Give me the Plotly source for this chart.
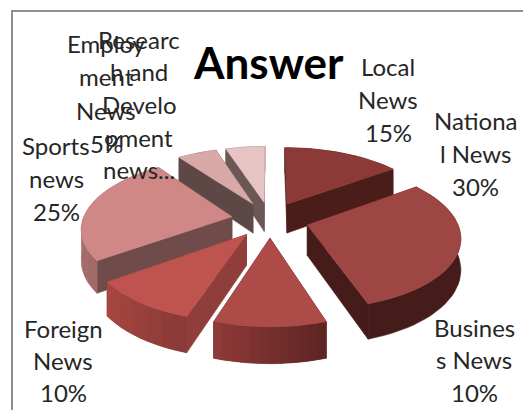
import math
import plotly.graph_objects as go

title = "Answer"
categories = ["Local News", "National News", "Business News", "Foreign News",
              "Sports news", "Employment News", "Research and Development news"]
values = [15, 30, 10, 10, 25, 5, 5]
label_lines = [
    ["Local", "News", "15%"],
    ["Nationa", "l News", "30%"],
    ["Busines", "s News", "10%"],
    ["Foreign", "News", "10%"],
    ["Sports", "news", "25%"],
    ["Employ", "ment", "News", "5%"],
    ["Researc", "h and", "Develo", "pment", "news..."],
]

# styling per slice: top face, radial wall, outer wall (start -> end of the sweep)
top_colors = ["#8B3A38", "#9E4643", "#AC4B48", "#BF534F", "#CF8886", "#D9A9A7", "#E6C4C3"]
wall_colors = ["#4A1C1A", "#451C1A", "#5A2422", "#8F3E3B", "#6F4B49", "#5E4846", "#6A5756"]
arc_colors = [("#4A1C1A", "#4A1C1A"), ("#451C1A", "#451C1A"), ("#5E2523", "#8E3A38"),
              ("#8A3A38", "#A8473F"), ("#A06A68", "#BC807E"), ("#5E4846", "#5E4846"), ("#6A5756", "#6A5756")]
label_x = [388, 475, 474, 63, 56, 106, 139]
label_y = [66, 120, 327, 328, 145, 43, 39]
line_steps = [33, 33, 32.5, 32, 33, 33.5, 32.7]

# projection of the tilted pie onto the page
CX, CY, RX, RY, PERSP, EXPLODE, DEPTH = 270, 219.5, 149, 69, 0.15, 0.26, 30


def project(u, v, down=False):
    d = 1 + PERSP * v
    y = CY - RY * v / d
    if down:
        y += DEPTH / d
    return CX + RX * u / d, y


def hex_mix(a, b, t):
    ca = [int(a[i:i + 2], 16) for i in (1, 3, 5)]
    cb = [int(b[i:i + 2], 16) for i in (1, 3, 5)]
    return "#" + "".join(f"{round(x + (y - x) * t):02x}" for x, y in zip(ca, cb))


def poly(points, color, width=0.6):
    xs = [p[0] for p in points] + [points[0][0]]
    ys = [p[1] for p in points] + [points[0][1]]
    return go.Scatter(x=xs, y=ys, mode="lines", fill="toself", fillcolor=color,
                      line=dict(color=color, width=width), hoverinfo="skip", showlegend=False)


total = sum(values)
slices = []
start = 0.0
for i, val in enumerate(values):
    sweep = 360.0 * val / total
    a0, a1 = start, start + sweep
    start = a1
    mid = math.radians((a0 + a1) / 2)
    ou, ov = EXPLODE * math.sin(mid), EXPLODE * math.cos(mid)
    n = max(4, int(sweep / 3))
    arc = []
    for k in range(n + 1):
        a = math.radians(a0 + (a1 - a0) * k / n)
        arc.append((ou + math.sin(a), ov + math.cos(a)))
    slices.append((ov + 0.6 * math.cos(mid), i, (ou, ov), arc))

traces = []
for _, i, apex, arc in sorted(slices, key=lambda s: -s[0]):
    for edge in sorted((arc[0], arc[-1]), key=lambda e: -e[1]):
        pts = [project(*apex), project(*edge), project(*edge, True), project(*apex, True)]
        traces.append(poly(pts, wall_colors[i]))
    # one continuous wall first, then the shading bands on top of it
    base = [project(*p) for p in arc] + [project(*p, True) for p in reversed(arc)]
    c0, c1 = arc_colors[i]
    traces.append(poly(base, hex_mix(c0, c1, 0.5)))
    if c0 != c1:
        bands = 8
        step = max(1, (len(arc) - 1) // bands)
        for k in range(0, len(arc) - 1, step):
            seg = arc[k:k + step + 1]
            pts = [project(*p) for p in seg] + [project(*p, True) for p in reversed(seg)]
            col = hex_mix(c0, c1, k / max(1, len(arc) - 2))
            traces.append(poly(pts, col, width=0))
    traces.append(poly([project(*apex)] + [project(*p) for p in arc], top_colors[i]))

fig = go.Figure(traces)

annotations = [dict(x=268, y=62, text=f"<b>{title}</b>", showarrow=False, xref="x", yref="y",
                    font=dict(family="Lato", size=44, color="#000000"))]
for i, lines in enumerate(label_lines):
    for j, line in enumerate(lines):
        annotations.append(dict(x=label_x[i], y=label_y[i] + j * line_steps[i], text=line,
                                showarrow=False, xref="x", yref="y",
                                font=dict(family="Lato", size=24, color="#262626")))

fig.update_layout(
    width=523, height=410, margin=dict(l=0, r=0, t=0, b=0),
    paper_bgcolor="white", plot_bgcolor="white", showlegend=False,
    xaxis=dict(range=[0, 523], visible=False, fixedrange=True),
    yaxis=dict(range=[410, 0], visible=False, fixedrange=True),
    annotations=annotations,
    shapes=[dict(type="rect", x0=12, y0=11, x1=560, y1=440, xref="x", yref="y",
                 line=dict(color="#8F8F8F", width=2), layer="below")],
)
fig.write_html("out.html", config=dict(displayModeBar=False),
               post_script="document.body.style.margin='0';document.documentElement.style.overflow='hidden';")
